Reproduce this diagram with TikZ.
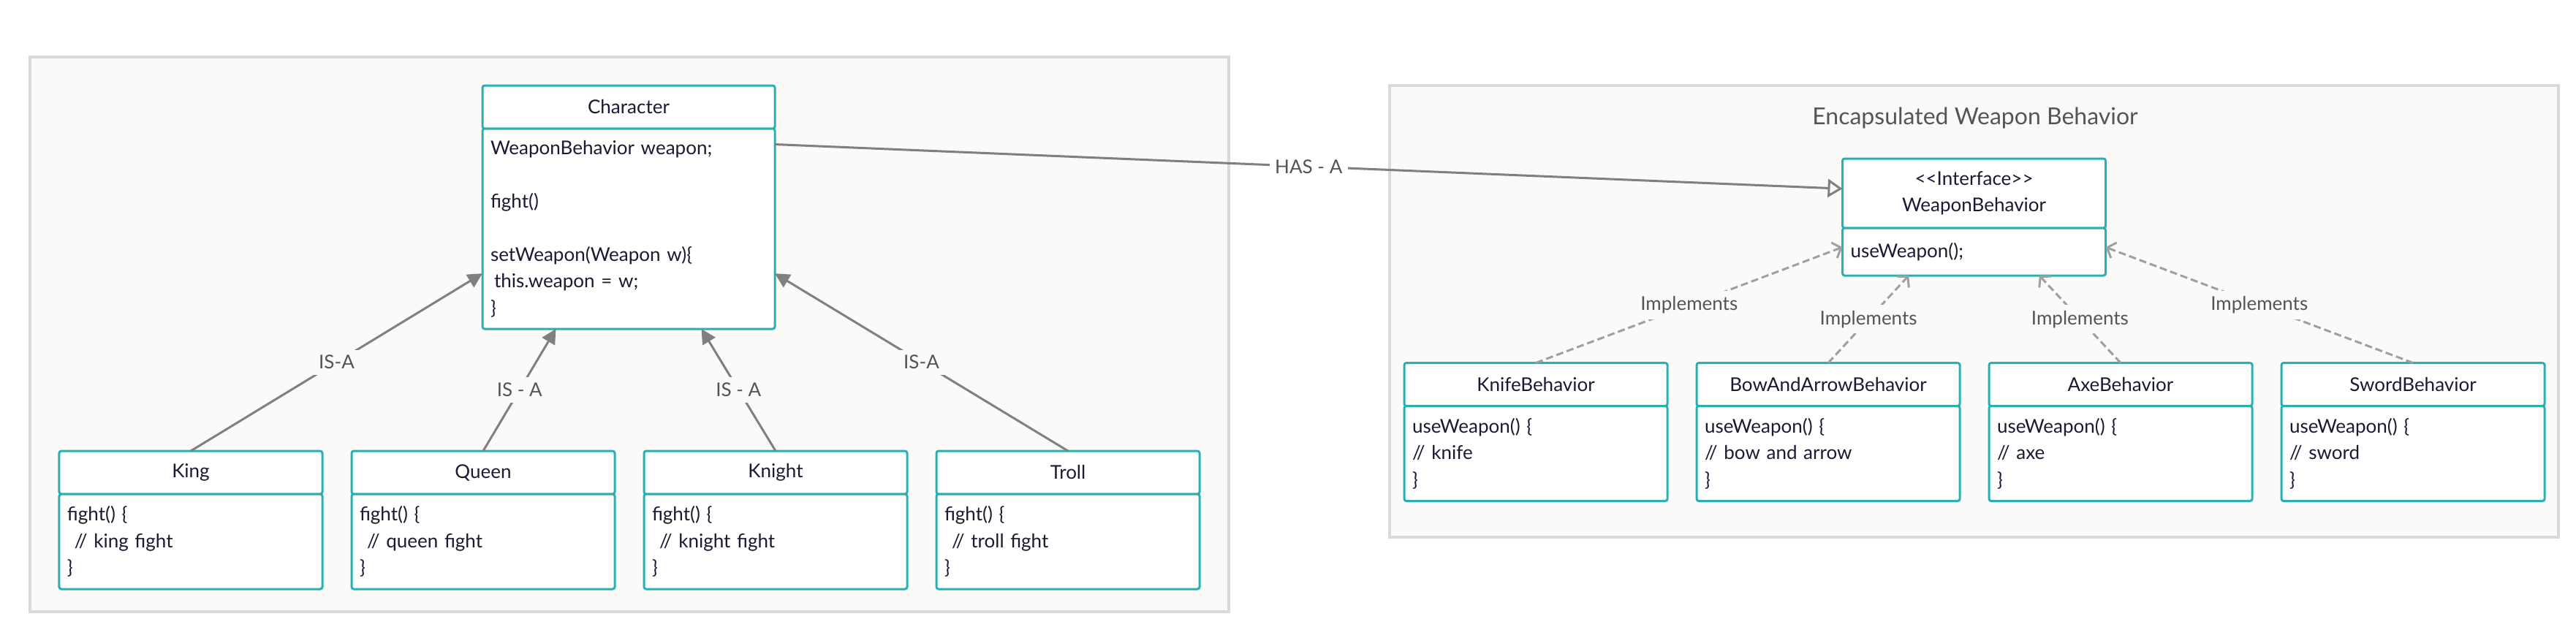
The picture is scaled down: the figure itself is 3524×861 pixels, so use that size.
\documentclass[tikz,border=0pt]{standalone}
\usepackage{fontspec}
\setmainfont{Lato}
\usetikzlibrary{positioning}
\usetikzlibrary{arrows.meta}

\definecolor{umlteal}{HTML}{2AB0AE}
\definecolor{umltext}{HTML}{1B1A33}
\definecolor{panelfill}{HTML}{FBFAF8}
\definecolor{panelline}{HTML}{D9D9D9}
\definecolor{linkgrey}{HTML}{808080}
\definecolor{dashgrey}{HTML}{A0A0A0}
\definecolor{labelgrey}{HTML}{555555}

\tikzset{
    panel/.style={draw=panelline, line width=1.6pt, fill=panelfill},
    classhead/.style={
        draw=umlteal, line width=1.2pt, fill=white, rounded corners=1.2pt,
        text=umltext, outer sep=0pt, inner sep=0pt,
        minimum width=144pt, minimum height=23.6pt,
        font=\fontsize{10.4}{14.6}\selectfont},
    classbody/.style={
        classhead, below=0pt of #1, align=left,
        inner xsep=4.4pt, text width=135.2pt, minimum height=52pt},
    isa/.style={draw=linkgrey, line width=1.2pt, -{Triangle[length=8pt,width=8pt]}},
    hasa/.style={draw=linkgrey, line width=1.2pt, -{Triangle[open,length=8pt,width=10pt]}},
    impl/.style={draw=dashgrey, line width=1.2pt, dash pattern=on 4pt off 2pt,
        -{Straight Barb[length=4pt,width=9pt]}},
    linklabel/.style={fill=panelfill, text=labelgrey, inner sep=3pt,
        font=\fontsize{10.4}{12}\selectfont},
}

\begin{document}
\begin{tikzpicture}[x=0.4pt, y=-0.4pt]

\useasboundingbox (0,0) rectangle (3524,861);

% Panels
\draw[panel] (41,78) rectangle (1681,837);
\draw[panel] (1901,117) rectangle (3500,735);
\node[text=labelgrey, font=\fontsize{12.8}{15}\selectfont] (title) at (2702,161) {Encapsulated Weapon Behavior};

% Character class
\node[classhead, minimum width=160pt] (char-head) at (860,146.5) {Character};
\node[classbody=char-head, minimum width=160pt, text width=151.2pt, minimum height=109.6pt] (char)
    {WeaponBehavior weapon;\\ \mbox{}\\ fight()\\ \mbox{}\\ setWeapon(Weapon w)\{\\ \hspace*{2pt}this.weapon = w;\\ \}};

% Draws subclasses
\foreach \name/\title/\what/\tip/\rel [count=\i from 0] in {
    king/King/king fight/197/IS-A,
    queen/Queen/queen fight/234/IS - A,
    knight/Knight/knight fight/306/IS - A,
    troll/Troll/troll fight/343/IS-A%
} {
    \node[classhead] (\name-head) at (261+400*\i, 646.5) {\title};
    \node[classbody=\name-head] (\name) {fight() \{\\ \hspace*{4pt}// \what\\ \}};
    \draw[isa] (\name-head.north) -- (char.\tip) node[midway, linklabel] {\rel};
}

% Interface
\node[classhead, minimum height=38pt, align=center] (wb-head) at (2700.5,264.5) {<{}<Interface>{}>\\ WeaponBehavior};
\node[classbody=wb-head, minimum height=26pt] (wb) {useWeapon();};

% Draws has-a link
\draw[hasa] (char.30) -- (wb-head.178) node[midway, linklabel, fill=white] {HAS - A};

% Draws behaviors
\foreach \name/\title/\what/\tip [count=\i from 0] in {
    knife/KnifeBehavior/knife/178,
    bow/BowAndArrowBehavior/bow and arrow/200,
    axe/AxeBehavior/axe/340,
    sword/SwordBehavior/sword/2%
} {
    \node[classhead] (\name-head) at (2101+400*\i, 526) {\title};
    \node[classbody=\name-head] (\name) {useWeapon() \{\\ // \what\\ \}};
    \draw[impl] (\name-head.north) -- (wb.\tip) node[midway, linklabel] {Implements};
}

\end{tikzpicture}
\end{document}
